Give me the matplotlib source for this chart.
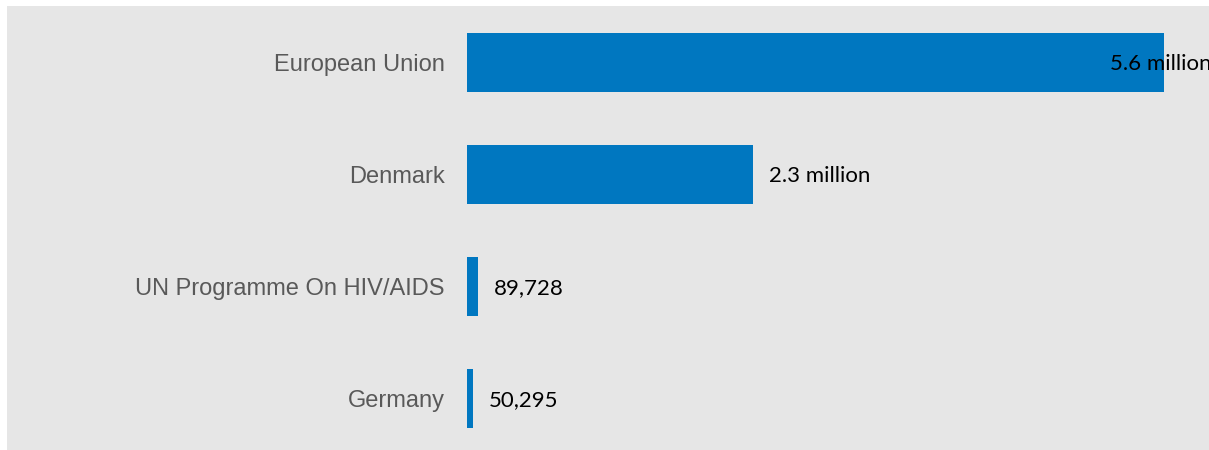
import matplotlib
matplotlib.use("Agg")
import matplotlib.pyplot as plt
from matplotlib.patches import Rectangle

categories = ["European Union", "Denmark", "UN Programme On HIV/AIDS", "Germany"]
values = [5600000, 2300000, 89728, 50295]
value_labels = ["5.6 million", "2.3 million", "89,728", "50,295"]

W, H = 1209, 450
DPI = 100
BLUE = "#0077c0"
BG = "#e6e6e6"
LABEL_GRAY = "#595959"

fig = plt.figure(figsize=(W / DPI, H / DPI), dpi=DPI)
fig.patch.set_facecolor("white")
fig.patches.append(Rectangle((7 / W, 0), 1 - 7 / W, (H - 6) / H,
                             transform=fig.transFigure, facecolor=BG,
                             edgecolor="none", zorder=-5))

ax_left = 467 / W
ax = fig.add_axes([ax_left, 0, 1 - ax_left, (H - 6) / H])
ax.patch.set_visible(False)

ypos = list(range(len(categories)))
ax.barh(ypos, values, height=0.53, color=BLUE, zorder=2)
ax.set_xlim(0, 5600000 * (W - 467) / 697)
ax.set_ylim(3 + (H - 398.5) / 112, -(62.5 - 6) / 112)

for s in ax.spines.values():
    s.set_visible(False)
ax.set_xticks([])
ax.set_yticks(ypos)
ax.set_yticklabels(categories, fontsize=17, color=LABEL_GRAY,
                   fontfamily="Liberation Sans")
ax.tick_params(axis="y", length=0, pad=16)

fig.canvas.draw()
renderer = fig.canvas.get_renderer()
for y, v, lab in zip(ypos, values, value_labels):
    t = ax.annotate(lab, xy=(v, y), xytext=(16, -2), textcoords="offset pixels",
                    ha="left", va="center", fontsize=16, color="black",
                    fontfamily="Lato", zorder=3, annotation_clip=False)
    bb = t.get_window_extent(renderer)
    if bb.x1 > W:
        t.xyann = (16 - (bb.x1 - W) + 2, -2)

fig.savefig("out.png", dpi=DPI)
